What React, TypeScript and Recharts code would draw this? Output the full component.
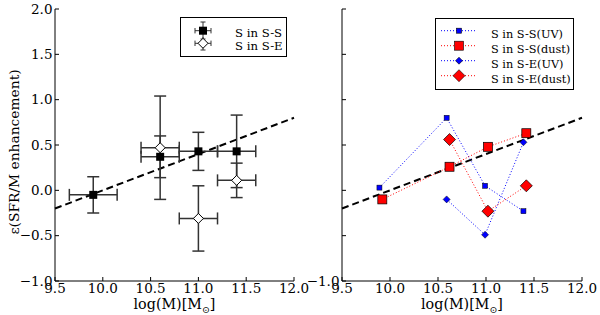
import {
  ErrorBar,
  ReferenceLine,
  Scatter,
  ScatterChart,
  XAxis,
  YAxis,
} from "recharts";

const FONT = '"DejaVu Serif", "Liberation Serif", serif';

// left panel: S in S-S (filled squares) and S in S-E (open diamonds)
const ssMass = [9.9, 10.6, 11.0, 11.4];
const ssEnh = [-0.05, 0.37, 0.43, 0.43];
const ssEnhErr = [0.2, 0.23, 0.21, 0.4];
const ssMassErr = [0.25, 0.2, 0.2, 0.2];

const seMass = [10.6, 11.0, 11.4];
const seEnh = [0.47, -0.31, 0.11];
const seEnhErr = [0.57, 0.36, 0.19];
const seMassErr = [0.2, 0.2, 0.2];

// right panel: UV and dust estimates
const ssUvMass = [9.89, 10.59, 10.99, 11.39];
const ssUvEnh = [0.03, 0.8, 0.05, -0.23];
const ssDustMass = [9.92, 10.62, 11.02, 11.42];
const ssDustEnh = [-0.1, 0.26, 0.48, 0.63];
const seUvMass = [10.59, 10.99, 11.39];
const seUvEnh = [-0.1, -0.49, 0.53];
const seDustMass = [10.62, 11.02, 11.42];
const seDustEnh = [0.56, -0.23, 0.05];

// dashed relation drawn in both panels
const fitMass = [9.5, 12.0];
const fitEnh = [-0.2, 0.8];

const xTicks = [9.5, 10, 10.5, 11, 11.5, 12];
const yTicks = [-1, -0.5, 0, 0.5, 1, 1.5, 2];

const zip = (xs: number[], ys: number[], ex?: number[], ey?: number[]) =>
  xs.map((x, i) => ({ x, y: ys[i], ex: ex ? ex[i] : 0, ey: ey ? ey[i] : 0 }));

const fmt = (v: number) => v.toFixed(1).replace("-", "\u2212");

const square =
  (size: number, fill: string, sw = 0) =>
  (p: any) => (
    <rect
      x={p.cx - size / 2}
      y={p.cy - size / 2}
      width={size}
      height={size}
      fill={fill}
      stroke="#000"
      strokeWidth={sw}
    />
  );

const diamond =
  (r: number, fill: string, sw = 1) =>
  (p: any) => (
    <polygon
      points={`${p.cx},${p.cy - r} ${p.cx + r},${p.cy} ${p.cx},${p.cy + r} ${p.cx - r},${p.cy}`}
      fill={fill}
      stroke="#000"
      strokeWidth={sw}
    />
  );

const massLabel = (props: any) => {
  const vb = props.viewBox || {};
  const cx = (vb.x ?? 0) + (vb.width ?? 0) / 2;
  return (
    <text x={cx} y={309} textAnchor="middle" fontFamily={FONT} fontSize={14.3} fill="#000">
      log(M)[M
      <tspan fontSize={9.5} dy={4}>
        {"\u2299"}
      </tspan>
      <tspan dy={-4}>]</tspan>
    </text>
  );
};

const enhLabel = (props: any) => {
  const vb = props.viewBox || {};
  const cy = (vb.y ?? 0) + (vb.height ?? 0) / 2 + 7;
  return (
    <text
      x={14}
      y={cy}
      transform={`rotate(-90, 14, ${cy})`}
      textAnchor="middle"
      dominantBaseline="central"
      fontFamily={FONT}
      fontSize={13.8}
      fill="#000"
    >
      ε(SFR/M enhancement)
    </text>
  );
};

const tickStyle = { fill: "#000", fontSize: 13.5, fontFamily: FONT };

function frame(yFormatter: (v: number) => string, withYLabel: boolean, yWidth: number) {
  return [
    <XAxis
      key="xb"
      type="number"
      dataKey="x"
      domain={[9.5, 12]}
      ticks={xTicks}
      interval={0}
      allowDataOverflow
      height={34}
      tickSize={-4}
      tickMargin={6.5}
      tickFormatter={fmt}
      tick={tickStyle}
      stroke="#000"
      label={{ content: massLabel }}
    />,
    <XAxis
      key="xt"
      xAxisId="top"
      orientation="top"
      type="number"
      dataKey="x"
      domain={[9.5, 12]}
      ticks={xTicks}
      interval={0}
      allowDataOverflow
      height={0}
      tickSize={-4}
      tickFormatter={() => ""}
      stroke="#000"
    />,
    <YAxis
      key="yl"
      type="number"
      dataKey="y"
      domain={[-1, 2]}
      ticks={yTicks}
      interval={0}
      allowDataOverflow
      width={yWidth}
      tickSize={-4}
      tickMargin={6.5}
      tickFormatter={yFormatter}
      tick={tickStyle}
      stroke="#000"
      label={withYLabel ? { content: enhLabel } : undefined}
    />,
    <YAxis
      key="yr"
      yAxisId="right"
      orientation="right"
      type="number"
      dataKey="y"
      domain={[-1, 2]}
      ticks={yTicks}
      interval={0}
      allowDataOverflow
      width={0}
      tickSize={-4}
      tickFormatter={() => ""}
      stroke="#000"
    />,
    <ReferenceLine
      key="fit"
      segment={[
        { x: fitMass[0], y: fitEnh[0] },
        { x: fitMass[1], y: fitEnh[1] },
      ]}
      stroke="#000"
      strokeWidth={2}
      strokeDasharray="7 4"
    />,
  ];
}

function LeftLegend() {
  return (
    <svg
      width={107}
      height={40}
      style={{ position: "absolute", left: 180, top: 17 }}
    >
      <rect x={0.5} y={0.5} width={106} height={39} fill="#fff" stroke="#000" />
      <g stroke="#333" strokeWidth={1}>
        <line x1={15} y1={13.7} x2={31} y2={13.7} />
        <line x1={15} y1={11} x2={15} y2={16.4} />
        <line x1={31} y1={11} x2={31} y2={16.4} />
        <line x1={23} y1={5} x2={23} y2={22} />
        <line x1={20.5} y1={5} x2={25.5} y2={5} />
        <line x1={20.5} y1={22} x2={25.5} y2={22} />
        <line x1={15} y1={26.3} x2={31} y2={26.3} />
        <line x1={15} y1={23.6} x2={15} y2={29} />
        <line x1={31} y1={23.6} x2={31} y2={29} />
        <line x1={23} y1={20} x2={23} y2={33} />
        <line x1={20.5} y1={33} x2={25.5} y2={33} />
      </g>
      <rect x={19} y={9.7} width={8} height={8} fill="#000" />
      <polygon points="23,21.3 28,26.3 23,31.3 18,26.3" fill="#fff" stroke="#000" />
      <g fontFamily={FONT} fontSize={11.7} fill="#000">
        <text x={55} y={19.7}>S in S-S</text>
        <text x={55} y={32.7}>S in S-E</text>
      </g>
    </svg>
  );
}

function RightLegend() {
  const rows = [
    { label: "S in S-S(UV)", color: "#0000ff", mark: "s", size: 5 },
    { label: "S in S-S(dust)", color: "#ff0000", mark: "s", size: 9 },
    { label: "S in S-E(UV)", color: "#0000ff", mark: "d", size: 3.5 },
    { label: "S in S-E(dust)", color: "#ff0000", mark: "d", size: 6 },
  ];
  return (
    <svg
      width={139}
      height={72}
      style={{ position: "absolute", left: 435, top: 18 }}
    >
      <rect x={0.5} y={0.5} width={138} height={71} fill="#fff" stroke="#000" />
      {rows.map((r, i) => {
        const y = 12.7 + i * 15;
        return (
          <g key={r.label}>
            <line
              x1={6}
              y1={y}
              x2={42}
              y2={y}
              stroke={r.color}
              strokeDasharray="1 2"
            />
            {r.mark === "s"
              ? square(r.size, r.color, 0.6)({ cx: 24, cy: y })
              : diamond(r.size, r.color, 0.6)({ cx: 24, cy: y })}
            <text x={56} y={y + 7.6} fontFamily={FONT} fontSize={11.3} fill="#000">
              {r.label}
            </text>
          </g>
        );
      })}
    </svg>
  );
}

export default function App() {
  const ss = zip(ssMass, ssEnh, ssMassErr, ssEnhErr);
  const se = zip(seMass, seEnh, seMassErr, seEnhErr);

  return (
    <div
      style={{
        position: "absolute",
        left: 0,
        top: 0,
        width: 600,
        height: 315,
        background: "#fff",
      }}
    >
      <div style={{ position: "absolute", left: 0, top: 0 }}>
        <ScatterChart
          width={320}
          height={315}
          margin={{ top: 9, right: 26, bottom: 0, left: 0 }}
        >
          {frame(fmt, true, 55)}
          <Scatter data={ss} shape={square(8, "#000")} isAnimationActive={false}>
            <ErrorBar dataKey="ey" direction="y" width={6} stroke="#333" />
            <ErrorBar dataKey="ex" direction="x" width={6} stroke="#333" />
          </Scatter>
          <Scatter data={se} shape={diamond(5, "#fff")} isAnimationActive={false}>
            <ErrorBar dataKey="ey" direction="y" width={6} stroke="#333" />
            <ErrorBar dataKey="ex" direction="x" width={6} stroke="#333" />
          </Scatter>
        </ScatterChart>
      </div>
      <div style={{ position: "absolute", left: 300, top: 0 }}>
        <ScatterChart
          width={300}
          height={315}
          margin={{ top: 9, right: 18, bottom: 0, left: 0 }}
        >
          {frame((v) => (v === -1 ? fmt(v) : ""), false, 42)}
          <Scatter
            data={zip(ssUvMass, ssUvEnh)}
            shape={square(5, "#0000ff", 0.5)}
            line={{ stroke: "#0000ff", strokeWidth: 1, strokeDasharray: "1 2" }}
            isAnimationActive={false}
          />
          <Scatter
            data={zip(ssDustMass, ssDustEnh)}
            shape={square(9, "#ff0000", 0.7)}
            line={{ stroke: "#ff0000", strokeWidth: 1, strokeDasharray: "1 2" }}
            isAnimationActive={false}
          />
          <Scatter
            data={zip(seUvMass, seUvEnh)}
            shape={diamond(3.5, "#0000ff", 0.5)}
            line={{ stroke: "#0000ff", strokeWidth: 1, strokeDasharray: "1 2" }}
            isAnimationActive={false}
          />
          <Scatter
            data={zip(seDustMass, seDustEnh)}
            shape={diamond(6, "#ff0000", 0.7)}
            line={{ stroke: "#ff0000", strokeWidth: 1, strokeDasharray: "1 2" }}
            isAnimationActive={false}
          />
        </ScatterChart>
      </div>
      <LeftLegend />
      <RightLegend />
    </div>
  );
}
